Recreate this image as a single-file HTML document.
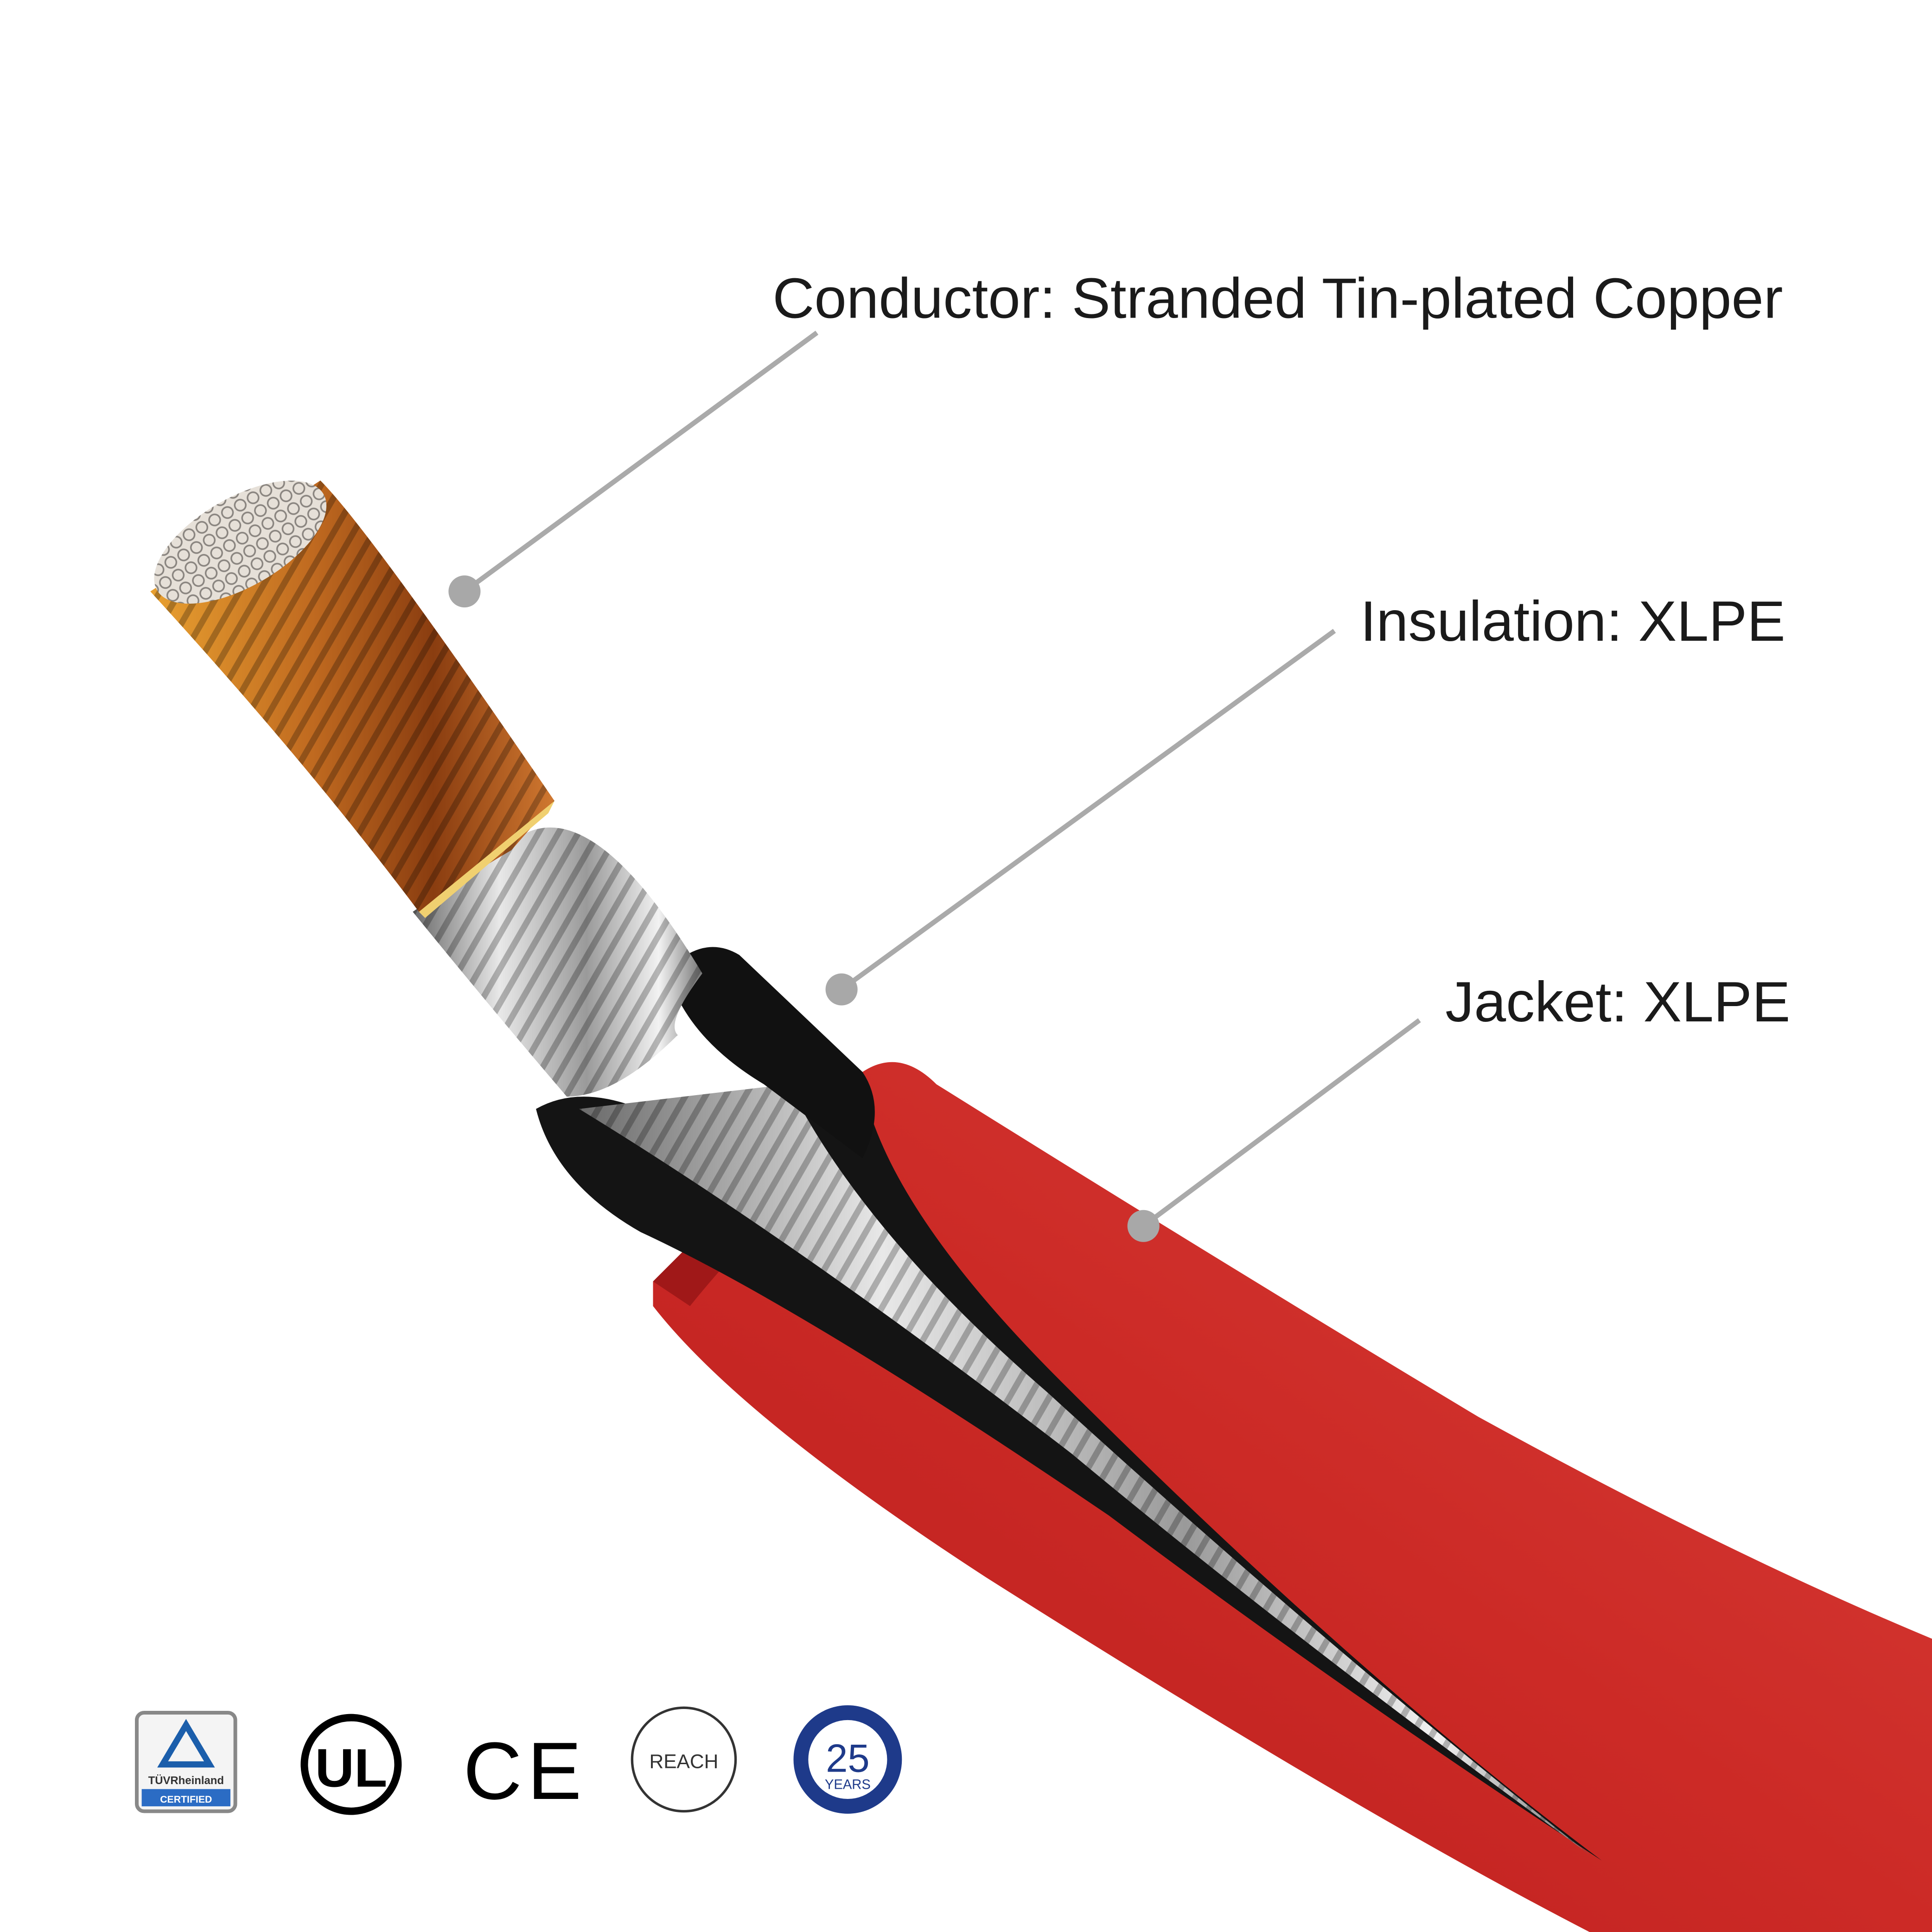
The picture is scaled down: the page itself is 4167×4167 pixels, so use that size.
<!DOCTYPE html>
<html><head><meta charset="utf-8"><style>
html,body{margin:0;padding:0;background:#fff;}
svg{display:block;}
text{font-family:"Liberation Sans",sans-serif;}
</style></head><body>
<svg width="4167" height="4167" viewBox="0 0 1568 1568" xmlns="http://www.w3.org/2000/svg">
<defs>
<linearGradient id="red" x1="0" y1="1" x2="1" y2="0">
<stop offset="0" stop-color="#b81c1c"/><stop offset="0.5" stop-color="#cc2a26"/><stop offset="1" stop-color="#d8403a"/>
</linearGradient>
<linearGradient id="silver" x1="0" y1="0" x2="1" y2="0">
<stop offset="0" stop-color="#6a6a6a"/><stop offset="0.3" stop-color="#e8e8e8"/><stop offset="0.6" stop-color="#9a9a9a"/><stop offset="0.85" stop-color="#f2f2f2"/><stop offset="1" stop-color="#777"/>
</linearGradient>
<linearGradient id="copper" x1="0" y1="0" x2="1" y2="0">
<stop offset="0" stop-color="#e8a030"/><stop offset="0.4" stop-color="#c06a20"/><stop offset="0.7" stop-color="#8a3d10"/><stop offset="1" stop-color="#d07830"/>
</linearGradient>
<pattern id="strands" width="14" height="14" patternUnits="userSpaceOnUse" patternTransform="rotate(30)">
<rect width="14" height="14" fill="none"/><rect width="5" height="14" fill="rgba(0,0,0,0.25)"/>
</pattern>
<pattern id="face" width="12" height="12" patternUnits="userSpaceOnUse">
<rect width="12" height="12" fill="#e6e0d8"/><circle cx="6" cy="6" r="4.5" fill="none" stroke="#8a8580" stroke-width="1.3"/>
</pattern>
</defs>
<rect width="1568" height="1568" fill="#fff"/>

<path d="M530,1040 Q560,1010 700,870 Q730,850 760,880 Q1000,1030 1200,1150 Q1400,1260 1568,1330 L1568,1568 L1290,1568 Q1100,1470 800,1280 Q600,1150 530,1060 Z" fill="url(#red)"/>
<path d="M530,1040 Q560,1010 700,870 Q710,900 690,920 Q600,1010 560,1060 Z" fill="#a01818"/>
<path d="M435,900 Q470,880 520,900 L700,880 Q720,980 860,1120 Q1100,1360 1300,1510 Q1100,1380 900,1230 Q650,1060 520,1000 Q450,960 435,900 Z" fill="#141414"/>
<path d="M470,900 L640,880 Q700,1000 850,1130 Q1080,1340 1290,1505 Q1050,1330 870,1180 Q650,1010 470,900 Z" fill="url(#silver)"/>
<path d="M470,900 L640,880 Q700,1000 850,1130 Q1080,1340 1290,1505 Q1050,1330 870,1180 Q650,1010 470,900 Z" fill="url(#strands)"/>
<path d="M550,780 Q575,760 600,775 L700,870 Q720,900 700,940 L620,880 Q570,850 550,810 Z" fill="#111"/>
<path d="M335,740 L420,680 Q480,640 570,790 Q540,830 550,840 Q500,890 460,890 Q400,820 335,740 Z" fill="url(#silver)"/>
<path d="M335,740 L420,680 Q480,640 570,790 Q540,830 550,840 Q500,890 460,890 Q400,820 335,740 Z" fill="url(#strands)"/>
<path d="M122,480 L260,390 Q300,430 450,650 L415,690 Q380,710 340,740 Q250,620 122,480 Z" fill="url(#copper)"/>
<path d="M122,480 L260,390 Q300,430 450,650 L415,690 Q380,710 340,740 Q250,620 122,480 Z" fill="url(#strands)"/>
<path d="M340,740 L450,650 L445,660 L345,745 Z" fill="#f0d070"/>
<ellipse cx="195" cy="440" rx="78" ry="36" transform="rotate(-30 195 440)" fill="url(#face)"/>

<g stroke="#aaa" stroke-width="4" fill="none">
<line x1="663" y1="270" x2="377" y2="480"/>
<line x1="1083" y1="512" x2="683" y2="803"/>
<line x1="1152" y1="828" x2="928" y2="995"/>
</g>
<g fill="#a8a8a8"><circle cx="377" cy="480" r="13"/><circle cx="683" cy="803" r="13"/><circle cx="928" cy="995" r="13"/></g>
<g fill="#1a1a1a" font-size="46">
<text x="627" y="258" textLength="820" lengthAdjust="spacingAndGlyphs">Conductor: Stranded Tin-plated Copper</text>
<text x="1104" y="520" textLength="345" lengthAdjust="spacingAndGlyphs">Insulation: XLPE</text>
<text x="1173" y="829" textLength="280" lengthAdjust="spacingAndGlyphs">Jacket: XLPE</text>
</g>

<rect x="111" y="1390" width="80" height="80" rx="6" fill="#f4f4f4" stroke="#888" stroke-width="3"/>
<path d="M151,1400 L170,1432 L132,1432 Z" fill="none" stroke="#1b5eab" stroke-width="5"/>
<text x="151" y="1448" font-size="9" text-anchor="middle" font-weight="bold" fill="#333">TÜVRheinland</text>
<rect x="115" y="1452" width="72" height="14" fill="#2b6cc4"/>
<text x="151" y="1463" font-size="8" text-anchor="middle" fill="#fff" font-weight="bold">CERTIFIED</text>
<circle cx="285" cy="1432" r="38" fill="none" stroke="#000" stroke-width="6"/>
<text x="285" y="1450" font-size="44" font-weight="bold" text-anchor="middle">UL</text>
<text x="376" y="1460" font-size="66" fill="#000">C</text>
<text x="428" y="1460" font-size="66" fill="#000">E</text>
<circle cx="555" cy="1428" r="42" fill="none" stroke="#333" stroke-width="2"/>
<text x="555" y="1435" font-size="16" text-anchor="middle" fill="#333">REACH</text>
<circle cx="688" cy="1428" r="44" fill="#1e3a8a"/>
<circle cx="688" cy="1428" r="32" fill="#fff"/>
<text x="688" y="1438" font-size="32" text-anchor="middle" fill="#1e3a8a" font-family="Liberation Serif">25</text>
<text x="688" y="1452" font-size="11" text-anchor="middle" fill="#1e3a8a" font-family="Liberation Serif">YEARS</text>
</svg>
</body></html>
